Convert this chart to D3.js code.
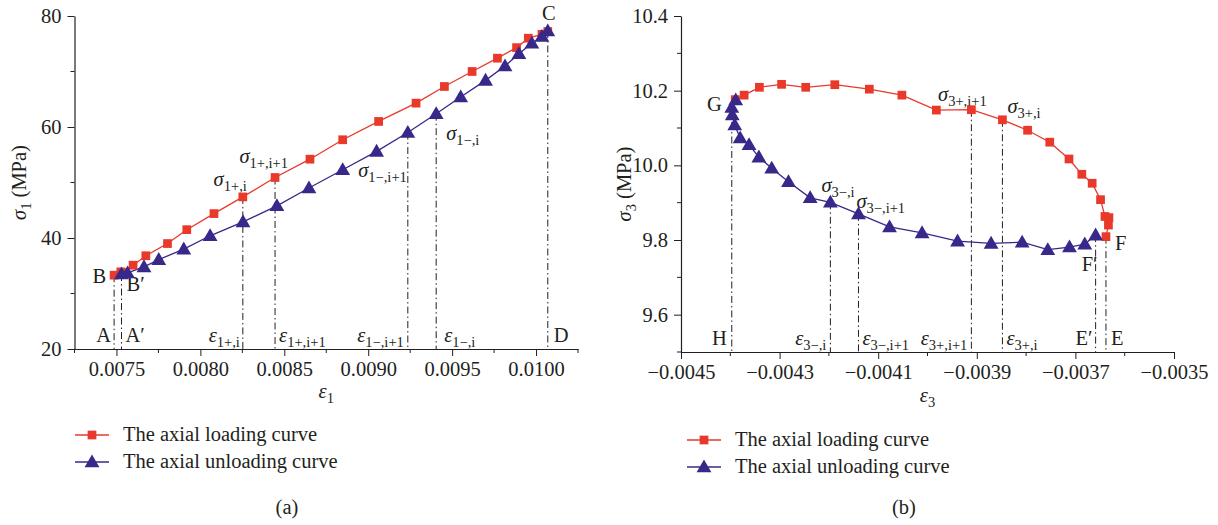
<!DOCTYPE html>
<html>
<head>
<meta charset="utf-8">
<script src="https://cdn.jsdelivr.net/npm/d3@7"></script>
<style>
  body { margin: 0; background: #fff; }
  svg text { font-family: "Liberation Serif", "DejaVu Serif", serif; fill: #231f20; }
</style>
</head>
<body>
<svg id="fig" width="1218" height="525"></svg>
<script>
// ---------- Panel (a): axial stress sigma1 vs axial strain eps1 ----------
const eps1Loading   = [0.007486, 0.007526, 0.007599, 0.007675, 0.007804, 0.007919, 0.008081, 0.008253, 0.008445, 0.008653,
                       0.008848, 0.009062, 0.009285, 0.009454, 0.009619, 0.009770, 0.009884, 0.009954, 0.010035, 0.010070];
const sig1Loading   = [33.3, 33.9, 35.1, 36.8, 39.0, 41.5, 44.4, 47.4, 50.9, 54.2,
                       57.7, 61.0, 64.3, 67.3, 70.0, 72.4, 74.3, 76.0, 76.7, 77.2];
const eps1Unloading = [0.010070, 0.010035, 0.009975, 0.009898, 0.009815, 0.009699, 0.009551, 0.009405, 0.009236, 0.009050,
                       0.008848, 0.008647, 0.008456, 0.008254, 0.008058, 0.007901, 0.007752, 0.007664, 0.007566, 0.007530];
const sig1Unloading = [77.3, 76.3, 75.1, 73.2, 71.0, 68.4, 65.4, 62.4, 59.0, 55.6,
                       52.3, 49.0, 45.8, 42.9, 40.4, 38.0, 36.1, 34.8, 33.7, 33.5];
const xTicksA = [0.0075, 0.0080, 0.0085, 0.0090, 0.0095, 0.0100];
const xMinorA = [0.00725, 0.00775, 0.00825, 0.00875, 0.00925, 0.00975, 0.01025];
const yTicksA = [20, 40, 60, 80];
const yMinorA = [30, 50, 70];

// ---------- Panel (b): confining stress sigma3 vs lateral strain eps3 ----------
const eps3Loading   = [-0.004390, -0.004372, -0.004341, -0.004296, -0.004247, -0.004188, -0.004118, -0.004052, -0.003982, -0.003911,
                       -0.003848, -0.003797, -0.003752, -0.003713, -0.003687, -0.003666, -0.003649, -0.003640, -0.003632, -0.003633, -0.003638];
const sig3Loading   = [10.176, 10.188, 10.209, 10.217, 10.209, 10.216, 10.204, 10.188, 10.148, 10.149,
                       10.122, 10.094, 10.062, 10.017, 9.976, 9.952, 9.908, 9.863, 9.860, 9.840, 9.809];
const eps3Unloading = [-0.003659, -0.003681, -0.003712, -0.003756, -0.003808, -0.003871, -0.003939, -0.004011, -0.004077, -0.004140,
                       -0.004197, -0.004238, -0.004282, -0.004316, -0.004342, -0.004362, -0.004380, -0.004391, -0.004396, -0.004397, -0.004389];
const sig3Unloading = [9.813, 9.789, 9.781, 9.774, 9.794, 9.791, 9.797, 9.819, 9.835, 9.870,
                       9.901, 9.913, 9.956, 9.992, 10.022, 10.055, 10.073, 10.108, 10.135, 10.155, 10.175];
const xTicksB = [-0.0045, -0.0043, -0.0041, -0.0039, -0.0037, -0.0035];
const xMinorB = [-0.0044, -0.0042, -0.0040, -0.0038, -0.0036];
const yTicksB = [9.6, 9.8, 10.0, 10.2, 10.4];
const yMinorB = [9.5, 9.7, 9.9, 10.1, 10.3];

const legendLabels = ["The axial loading curve", "The axial unloading curve"];
const panelTags = ["(a)", "(b)"];

// Guide lines dropped from a marked point to the strain axis.
// series: which curve the point belongs to, idx: point index,
// axisLabel / pointLabel: "symbol|subscript" strings.
const guidesA = [
  { series: "load",   idx: 0,  axisLabel: "A",          pointLabel: "B" },
  { series: "unload", idx: 19, axisLabel: "A′",         pointLabel: "B′" },
  { series: "load",   idx: 7,  axisLabel: "ε|1+,i",     pointLabel: "σ|1+,i" },
  { series: "load",   idx: 8,  axisLabel: "ε|1+,i+1",   pointLabel: "σ|1+,i+1" },
  { series: "unload", idx: 8,  axisLabel: "ε|1−,i+1",   pointLabel: "σ|1−,i+1" },
  { series: "unload", idx: 7,  axisLabel: "ε|1−,i",     pointLabel: "σ|1−,i" },
  { series: "unload", idx: 0,  axisLabel: "D",          pointLabel: "C" }
];
const guidesB = [
  { series: "unload", idx: 19, axisLabel: "H",          pointLabel: "G" },
  { series: "unload", idx: 10, axisLabel: "ε|3−,i",     pointLabel: "σ|3−,i" },
  { series: "unload", idx: 9,  axisLabel: "ε|3−,i+1",   pointLabel: "σ|3−,i+1" },
  { series: "load",   idx: 9,  axisLabel: "ε|3+,i+1",   pointLabel: "σ|3+,i+1" },
  { series: "load",   idx: 10, axisLabel: "ε|3+,i",     pointLabel: "σ|3+,i" },
  { series: "unload", idx: 0,  axisLabel: "E′",         pointLabel: "F′" },
  { series: "load",   idx: 20, axisLabel: "E",          pointLabel: "F" }
];

// ---------- styling / layout ----------
const RED = "#e8392a", BLUE = "#37288a", INK = "#231f20";
const FS = 20.5, SUB = 14.5;
const svg = d3.select("#fig");

// placement of text next to guides: [anchor, dx, dy] relative to the point / foot of the line
const axisLabelPlaceA = [["end",-3],["start",4],["end",-3],["start",4],["end",-4],["start",8],["start",6]];
const pointLabelPlaceA = [["end",-8,8],["start",5,17],["end",4,-11],["end",13,-15],["end",-1,44],["start",10,26],["middle",1,-11]];
const axisLabelPlaceB = [["end",-5],["end",-4],["start",4],["end",-4],["start",4],["end",-3],["start",5]];
const pointLabelPlaceB = [["end",-10,4],["start",-9,-10],["start",-2,-6],["middle",-9,-9],["start",5,-7],["end",2,36],["start",9,13]];

function symText(g, x, y, str, anchor, size) {
  const [main, sub] = str.split("|");
  const t = g.append("text").attr("x", x).attr("y", y)
    .attr("text-anchor", anchor).attr("font-size", size || FS);
  const greek = /[σε]/.test(main);
  t.append("tspan").text(main).attr("font-style", greek ? "italic" : "normal");
  if (sub) t.append("tspan").text(sub).attr("font-size", SUB).attr("dy", 5);
  return t;
}

function panel(opt) {
  const g = svg.append("g");
  const x = d3.scaleLinear().domain(opt.xDomain).range(opt.xRange);
  const y = d3.scaleLinear().domain(opt.yDomain).range(opt.yRange);
  const x0 = opt.xRange[0], y0 = opt.yRange[0];

  // axes (major + minor ticks, outward)
  const xAxis = d3.axisBottom(x).tickValues(opt.xTicks).tickSize(7).tickSizeOuter(0)
    .tickFormat(opt.xFmt).tickPadding(5);
  const gx = g.append("g").attr("transform", `translate(0,${y0})`).call(xAxis);
  gx.selectAll(".tick line").attr("stroke", INK);
  gx.select(".domain").attr("stroke", INK).attr("stroke-width", 1.2);
  gx.selectAll("text").attr("font-size", FS).attr("fill", INK).style("font-family", "Liberation Serif");
  gx.selectAll(".minor").data(opt.xMinor).enter().append("line")
    .attr("x1", d => x(d)).attr("x2", d => x(d)).attr("y1", 0).attr("y2", 4).attr("stroke", INK);

  const yAxis = d3.axisLeft(y).tickValues(opt.yTicks).tickSize(7).tickSizeOuter(0)
    .tickFormat(opt.yFmt).tickPadding(6);
  const gy = g.append("g").attr("transform", `translate(${x0},0)`).call(yAxis);
  gy.selectAll(".tick line").attr("stroke", INK);
  gy.select(".domain").attr("stroke", INK).attr("stroke-width", 1.2);
  gy.selectAll("text").attr("font-size", FS).attr("fill", INK).style("font-family", "Liberation Serif");
  gy.selectAll(".minor").data(opt.yMinor).enter().append("line")
    .attr("y1", d => y(d)).attr("y2", d => y(d)).attr("x1", 0).attr("x2", -4).attr("stroke", INK);

  const load = opt.loadX.map((v, i) => [v, opt.loadY[i]]);
  const unload = opt.unloadX.map((v, i) => [v, opt.unloadY[i]]);
  const series = { load, unload };

  // dash-dot guide lines
  opt.guides.forEach((gd, k) => {
    const p = series[gd.series][gd.idx];
    const px = x(p[0]), py = y(p[1]);
    g.append("line").attr("x1", px).attr("x2", px).attr("y1", py).attr("y2", y0)
      .attr("stroke", INK).attr("stroke-width", 1).attr("stroke-dasharray", "7,3,1.5,3");
    const a = opt.axisPlace[k];
    symText(g, px + a[1], y0 - 7, gd.axisLabel, a[0]);
    const b = opt.pointPlace[k];
    symText(g, px + b[1], py + b[2], gd.pointLabel, b[0]);
  });

  const line = d3.line().x(d => x(d[0])).y(d => y(d[1]));
  g.append("path").datum(load).attr("d", line).attr("fill", "none").attr("stroke", RED).attr("stroke-width", 1.3);
  g.append("path").datum(unload).attr("d", line).attr("fill", "none").attr("stroke", BLUE).attr("stroke-width", 1.3);

  const sq = d3.symbol().type(d3.symbolSquare).size(76);
  const tri = d3.symbol().type(d3.symbolTriangle).size(95);
  g.selectAll(".sq").data(load).enter().append("path").attr("d", sq)
    .attr("transform", d => `translate(${x(d[0])},${y(d[1])})`).attr("fill", RED);
  g.selectAll(".tri").data(unload).enter().append("path").attr("d", tri)
    .attr("transform", d => `translate(${x(d[0])},${y(d[1]) + 1})`).attr("fill", BLUE);

  // axis titles
  const yt = g.append("text").attr("transform", `translate(${opt.yTitleX},${(opt.yRange[0] + opt.yRange[1]) / 2}) rotate(-90)`)
    .attr("text-anchor", "middle").attr("font-size", FS);
  yt.append("tspan").text("σ").attr("font-style", "italic");
  yt.append("tspan").text(opt.sub).attr("font-size", SUB).attr("dy", 5);
  yt.append("tspan").text(" (MPa)").attr("dy", -5);
  const xt = g.append("text").attr("x", (opt.xRange[0] + opt.xRange[1]) / 2).attr("y", opt.xTitleY)
    .attr("text-anchor", "middle").attr("font-size", FS);
  xt.append("tspan").text("ε").attr("font-style", "italic");
  xt.append("tspan").text(opt.sub).attr("font-size", SUB).attr("dy", 5);

  // legend
  legendLabels.forEach((lab, i) => {
    const ly = opt.legendY + i * 27, lx = opt.legendX;
    g.append("line").attr("x1", lx).attr("x2", lx + 34).attr("y1", ly).attr("y2", ly)
      .attr("stroke", i ? BLUE : RED).attr("stroke-width", 1.3);
    g.append("path").attr("d", i ? tri : sq).attr("transform", `translate(${lx + 17},${ly + (i ? 1 : 0)})`)
      .attr("fill", i ? BLUE : RED);
    g.append("text").attr("x", lx + 48).attr("y", ly + 6).attr("font-size", FS).text(lab);
  });

  g.append("text").attr("x", opt.tagX).attr("y", 514).attr("text-anchor", "middle")
    .attr("font-size", FS).text(opt.tag);
}

panel({
  xDomain: [0.00725, 0.01025], xRange: [74.5, 578],
  yDomain: [20, 80], yRange: [349, 16],
  xTicks: xTicksA, xMinor: xMinorA, yTicks: yTicksA, yMinor: yMinorA,
  xFmt: d3.format(".4f"), yFmt: d3.format("d"),
  loadX: eps1Loading, loadY: sig1Loading, unloadX: eps1Unloading, unloadY: sig1Unloading,
  guides: guidesA, axisPlace: axisLabelPlaceA, pointPlace: pointLabelPlaceA,
  sub: "1", yTitleX: 26, xTitleY: 398,
  legendX: 75, legendY: 435, tagX: 287, tag: panelTags[0]
});

panel({
  xDomain: [-0.0045, -0.0035], xRange: [681, 1174],
  yDomain: [9.5, 10.4], yRange: [352, 16],
  xTicks: xTicksB, xMinor: xMinorB, yTicks: yTicksB, yMinor: yMinorB,
  xFmt: d => d3.format(".4f")(d).replace("-", "−"), yFmt: d3.format(".1f"),
  loadX: eps3Loading, loadY: sig3Loading, unloadX: eps3Unloading, unloadY: sig3Unloading,
  guides: guidesB, axisPlace: axisLabelPlaceB, pointPlace: pointLabelPlaceB,
  sub: "3", yTitleX: 631, xTitleY: 402,
  legendX: 687, legendY: 440, tagX: 904, tag: panelTags[1]
});
</script>
</body>
</html>
